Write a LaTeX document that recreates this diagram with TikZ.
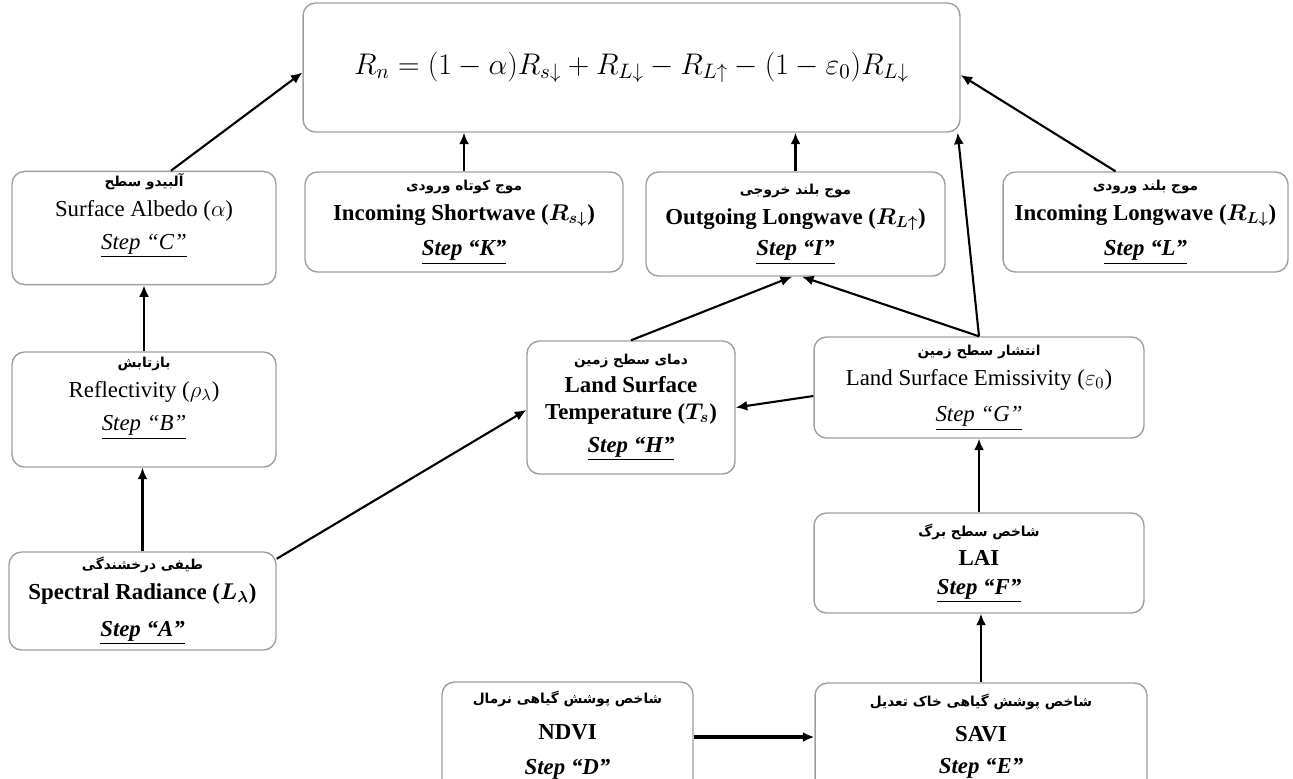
\RequirePackage{fix-cm}
\documentclass[tikz,border=0pt]{standalone}
\usepackage{fontspec}
\setmainfont{Liberation Serif}
\newfontfamily\farsi[Script=Arabic]{DejaVu Sans}
\TeXXeTstate=1
\usetikzlibrary{arrows.meta}
\newcommand\fatxt[1]{{\farsi\bfseries\fontsize{7.8}{9.5}\selectfont\beginR #1\endR}}
\newcommand\steplabel[1]{\underline{\textit{Step “#1”}}}

\begin{document}
\begin{tikzpicture}[x=0.02cm,y=-0.02cm,
  box/.style={draw=gray!75,line width=0.8pt,rounded corners=0.25cm,align=center,inner sep=1pt,font=\fontsize{13}{15}\selectfont},
  boldbox/.style={box,font=\fontsize{13}{15}\selectfont\bfseries\boldmath},
  flow/.style={-{Latex[length=2.3mm,width=2mm]},line width=1.2pt}]
  \useasboundingbox (0,0) rectangle (1293,778);

  % net radiation
  \node[box,minimum width=13.14cm,minimum height=2.58cm,font=\fontsize{17}{20}\selectfont] (rn) at (631.5,67.5)
    {$R_n = (1-\alpha)R_{s\downarrow} + R_{L\downarrow} - R_{L\uparrow} - (1-\varepsilon_0)R_{L\downarrow}$};

  % first row
  \node[box,minimum width=5.28cm,minimum height=2.24cm] (alb) at (144,228)
    {\fatxt{آلبیدو سطح}\\[2pt] Surface Albedo ($\alpha$)\\[4pt] \steplabel{C}\\[4pt]};
  \node[boldbox,minimum width=6.36cm,minimum height=2cm] (sw) at (464,222)
    {\fatxt{موج کوتاه ورودی}\\[2pt] Incoming Shortwave ($R_{s\downarrow}$)\\[5pt] \steplabel{K}};
  \node[boldbox,minimum width=5.98cm,minimum height=2.08cm] (ol) at (795.5,224)
    {\fatxt{موج بلند خروجی}\\[2pt] Outgoing Longwave ($R_{L\uparrow}$)\\[3pt] \steplabel{I}};
  \node[boldbox,minimum width=5.7cm,minimum height=2cm] (il) at (1145.5,222)
    {\fatxt{موج بلند ورودی}\\[2pt] Incoming Longwave ($R_{L\downarrow}$)\\[5pt] \steplabel{L}};

  % second row
  \node[box,minimum width=5.28cm,minimum height=2.3cm] (refl) at (144,409.5)
    {\fatxt{بازتابش}\\[2pt] Reflectivity ($\rho_\lambda$)\\[4pt] \steplabel{B}\\[3pt]};
  \node[boldbox,minimum width=4.16cm,minimum height=2.66cm] (lst) at (631,407.5)
    {\fatxt{دمای سطح زمین}\\[1pt] Land Surface\\ Temperature ($T_s$)\\[4pt] \steplabel{H}};
  \node[box,minimum width=6.6cm,minimum height=2.02cm] (lse) at (979,387.5)
    {\fatxt{انتشار سطح زمین}\\[2pt] Land Surface Emissivity ($\varepsilon_0$)\\[6pt] \steplabel{G}};

  % third row
  \node[boldbox,minimum width=5.34cm,minimum height=1.96cm] (sr) at (142.5,601)
    {\fatxt{طیفی درخشندگی}\\[2pt] Spectral Radiance ($L_\lambda$)\\[6pt] \steplabel{A}};
  \node[boldbox,minimum width=6.6cm,minimum height=2cm] (lai) at (979,563)
    {\fatxt{شاخص سطح برگ}\\[2pt] LAI\\[1pt] \steplabel{F}};

  % bottom row
  \node[boldbox,minimum width=5.02cm,minimum height=2.2cm] (ndvi) at (567.5,737)
    {\fatxt{شاخص پوشش گیاهی نرمال}\\[5pt] NDVI\\[5pt] \steplabel{D}};
  \node[boldbox,minimum width=6.64cm,minimum height=2.2cm] (savi) at (981,738)
    {\fatxt{شاخص پوشش گیاهی خاک تعدیل}\\[5pt] SAVI\\[3pt] \steplabel{E}};

  % connectors
  \draw[flow] ([xshift=0.54cm]alb.north) -- ([yshift=-0.1cm]rn.west);
  \draw[flow] (sw.north) -- (sw.north |- rn.south);
  \draw[flow] (ol.north) -- (ol.north |- rn.south);
  \draw[flow] ([xshift=-0.6cm]il.north) -- ([yshift=-0.15cm]rn.east);
  \draw[flow] (lse.north) -- ([xshift=-0.06cm]rn.south east);
  \draw[flow] (lse.north) -- ([xshift=0.13cm]ol.south);
  \draw[flow] (lst.north) -- ([xshift=-0.07cm]ol.south);
  \draw[flow] ([yshift=-0.17cm]lse.west) -- (lst.east);
  \draw[flow] ([yshift=-0.15cm]sr.north east) -- ([yshift=-0.05cm]lst.west);
  \draw[flow] (sr.north) -- (sr.north |- refl.south);
  \draw[flow] (refl.north) -- (refl.north |- alb.south);
  \draw[flow] (lai.north) -- (lai.north |- lse.south);
  \draw[flow] (savi.north) -- (savi.north |- lai.south);
  \draw[flow,line width=2.2pt] (ndvi.east) -- (ndvi.east -| savi.west);
\end{tikzpicture}
\end{document}
